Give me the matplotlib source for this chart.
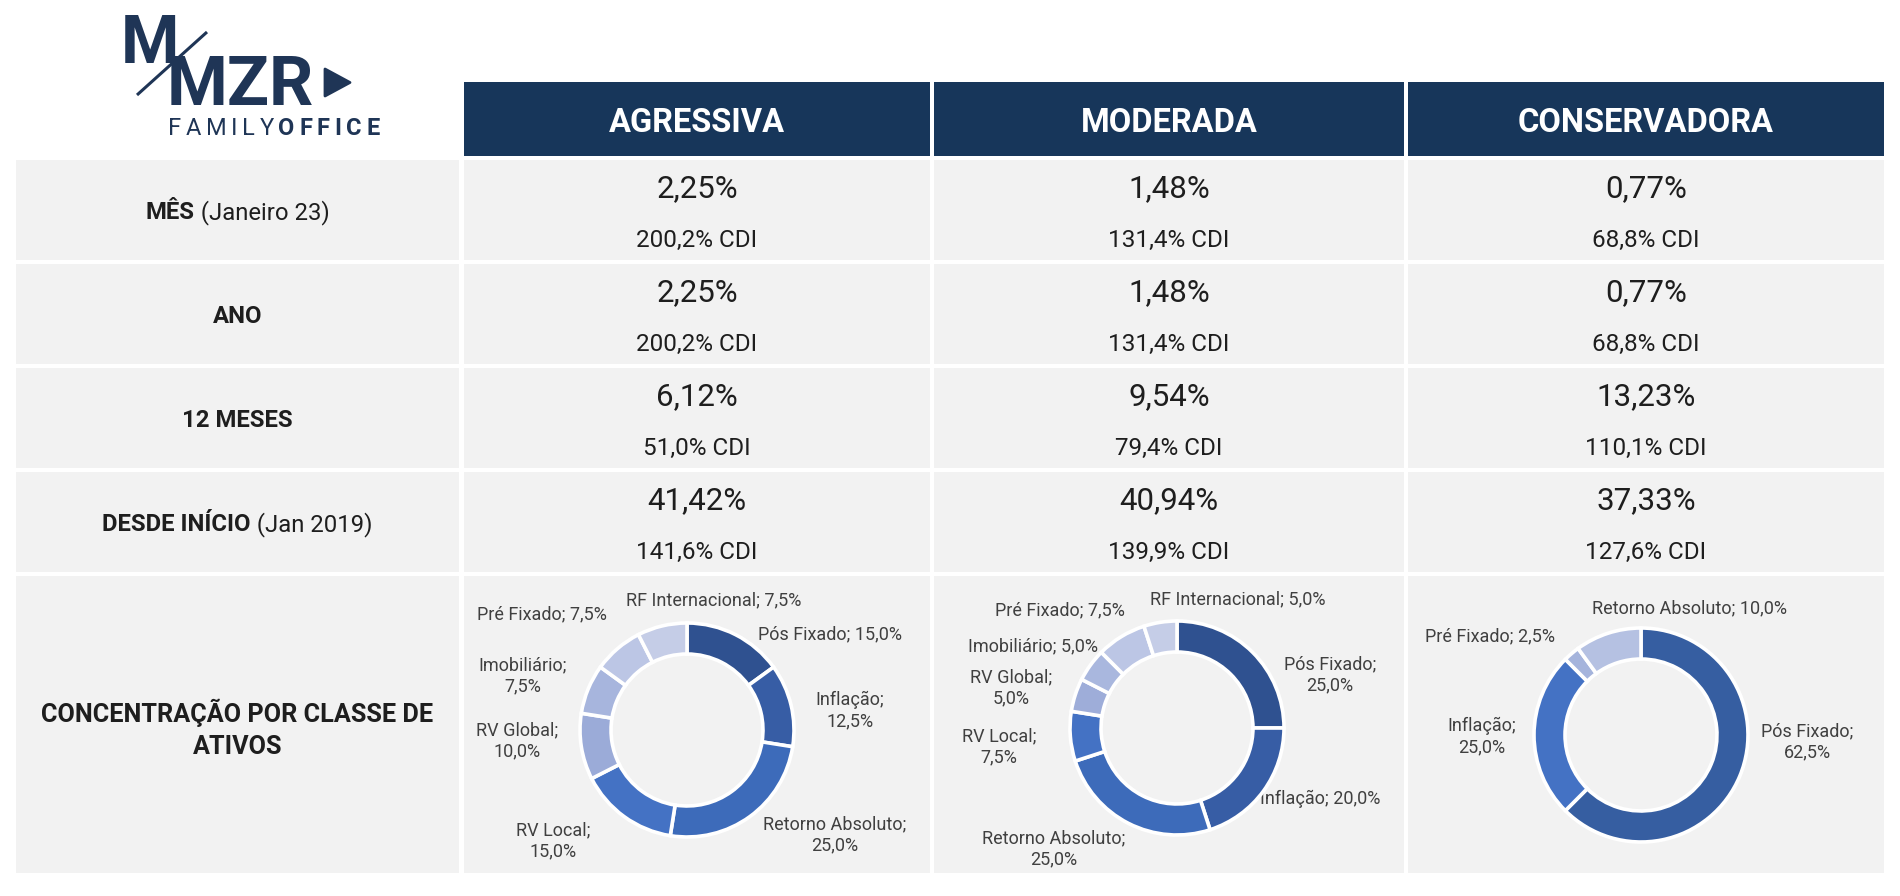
import matplotlib
matplotlib.use('Agg')
import matplotlib.pyplot as plt
from matplotlib.patches import Rectangle, Polygon

plt.rcParams['font.family'] = ['Roboto', 'DejaVu Sans']

# dados
perfis = ['AGRESSIVA', 'MODERADA', 'CONSERVADORA']
periodos = ['MÊS', 'ANO', '12 MESES', 'DESDE INÍCIO']
periodos_ref = [' (Janeiro 23)', '', '', ' (Jan 2019)']

ret_agressiva = [2.25, 2.25, 6.12, 41.42]
ret_moderada = [1.48, 1.48, 9.54, 40.94]
ret_conservadora = [0.77, 0.77, 13.23, 37.33]
cdi_agressiva = [200.2, 200.2, 51.0, 141.6]
cdi_moderada = [131.4, 131.4, 79.4, 139.9]
cdi_conservadora = [68.8, 68.8, 110.1, 127.6]

classes_agr = ['Pós Fixado', 'Inflação', 'Retorno Absoluto', 'RV Local',
               'RV Global', 'Imobiliário', 'Pré Fixado', 'RF Internacional']
pesos_agr = [15.0, 12.5, 25.0, 15.0, 10.0, 7.5, 7.5, 7.5]
classes_mod = ['Pós Fixado', 'Inflação', 'Retorno Absoluto', 'RV Local',
               'RV Global', 'Imobiliário', 'Pré Fixado', 'RF Internacional']
pesos_mod = [25.0, 20.0, 25.0, 7.5, 5.0, 5.0, 7.5, 5.0]
classes_con = ['Pós Fixado', 'Inflação', 'Pré Fixado', 'Retorno Absoluto']
pesos_con = [62.5, 25.0, 2.5, 10.0]

# estilo / layout (pixels)
NAVY = '#17365A'
LOGO = '#1F3556'
CELL = '#F2F2F2'
TXT = '#1E1E1E'
LBL = '#404040'
cores_agr = ['#2F5190', '#375DA5', '#3D6BBA', '#4472C4', '#9BABD8', '#A7B5DD', '#BCC6E5', '#C5CDE7']
cores_mod = ['#2F5190', '#375DA5', '#3D6BBA', '#4472C4', '#9EADD9', '#A9B7DE', '#BCC6E5', '#C5CDE7']
cores_con = ['#365EA1', '#4472C4', '#A5B4DC', '#B5C1E2']

W, H = 1900, 896
col_x = [(464, 930), (934, 1404), (1408, 1884)]
lab_x = (16, 459)
head_y = (82, 156)
row_tops = [160, 264, 368, 472]
row_h = 100
donut_row = (576, 873)

fig = plt.figure(figsize=(W / 100, H / 100), dpi=100)
fig.patch.set_facecolor('white')
ax = fig.add_axes([0, 0, 1, 1])
ax.set_xlim(0, W)
ax.set_ylim(H, 0)
ax.axis('off')


def fmt(v, casas=2):
    return f'{v:.{casas}f}'.replace('.', ',')


# cabeçalho
for (x0, x1), nome in zip(col_x, perfis):
    ax.add_patch(Rectangle((x0, head_y[0]), x1 - x0, head_y[1] - head_y[0], color=NAVY, lw=0))
    ax.text((x0 + x1) / 2, 131.7, nome, color='white', fontsize=23.5, weight='bold',
            ha='center', va='baseline')

# linhas de rentabilidade
renderer = fig.canvas.get_renderer()
rets = [ret_agressiva, ret_moderada, ret_conservadora]
cdis = [cdi_agressiva, cdi_moderada, cdi_conservadora]
for i, top in enumerate(row_tops):
    ax.add_patch(Rectangle((lab_x[0], top), lab_x[1] - lab_x[0], row_h, color=CELL, lw=0))
    t1 = ax.text(0, top + 59.3, periodos[i], color=TXT, fontsize=17.2, weight='bold',
                 ha='left', va='baseline')
    t2 = ax.text(0, top + 59.3, periodos_ref[i], color=TXT, fontsize=17.2,
                 ha='left', va='baseline')
    w1 = t1.get_window_extent(renderer).width
    w2 = t2.get_window_extent(renderer).width if periodos_ref[i] else 0
    xs = (lab_x[0] + lab_x[1]) / 2 - (w1 + w2) / 2
    t1.set_x(xs)
    t2.set_x(xs + w1)
    for j, (x0, x1) in enumerate(col_x):
        ax.add_patch(Rectangle((x0, top), x1 - x0, row_h, color=CELL, lw=0))
        ax.text((x0 + x1) / 2, top + 36.7, fmt(rets[j][i]) + '%', color=TXT, fontsize=22.5,
                ha='center', va='baseline')
        ax.text((x0 + x1) / 2, top + 86.7, fmt(cdis[j][i], 1) + '% CDI', color=TXT,
                fontsize=17.5, ha='center', va='baseline')

# linha de concentração
ax.add_patch(Rectangle((lab_x[0], donut_row[0]), lab_x[1] - lab_x[0],
                       donut_row[1] - donut_row[0], color=CELL, lw=0))
ax.text((lab_x[0] + lab_x[1]) / 2, 729, 'CONCENTRAÇÃO POR CLASSE DE\nATIVOS', color=TXT,
        fontsize=18.2, weight='bold', ha='center', va='center', linespacing=1.45)
for (x0, x1) in col_x:
    ax.add_patch(Rectangle((x0, donut_row[0]), x1 - x0, donut_row[1] - donut_row[0],
                           color=CELL, lw=0))

# rosquinhas: centro, posição dos rótulos e quebra de linha
R = 107
donuts = [
    (classes_agr, pesos_agr, cores_agr, (687, 730),
     [(830, 634, ' '), (850, 711, '\n'), (835, 835, '\n'), (553, 841, '\n'),
      (517, 741, '\n'), (523, 676, '\n'), (542, 614, ' '), (714, 600, ' ')]),
    (classes_mod, pesos_mod, cores_mod, (1177, 728),
     [(1330, 675, '\n'), (1320, 799, ' '), (1054, 849, '\n'), (999, 747, '\n'),
      (1011, 688, '\n'), (1033, 646, ' '), (1060, 610, ' '), (1238, 599, ' ')]),
    (classes_con, pesos_con, cores_con, (1641, 735),
     [(1807, 742, '\n'), (1482, 737, '\n'), (1490, 636, ' '), (1689, 608, ' ')]),
]
for classes, pesos, cores, (cx, cy), rotulos in donuts:
    S = 2 * R * 1.25
    pax = fig.add_axes([(cx - S / 2) / W, (H - cy - S / 2) / H, S / W, S / H])
    pax.pie(pesos, colors=cores, startangle=90, counterclock=False, radius=1,
            wedgeprops=dict(width=0.29, edgecolor='white', linewidth=2.6))
    pax.axis('off')
    for classe, peso, (lx, ly, sep) in zip(classes, pesos, rotulos):
        ax.text(lx, ly, f'{classe};{sep}{fmt(peso, 1)}%', color=LBL, fontsize=13,
                ha='center', va='center', linespacing=1.25)

# logo
ax.text(121, 63, 'M', color=LOGO, fontsize=48, weight='bold', ha='left', va='baseline')
ax.text(167, 105, 'MZR', color=LOGO, fontsize=50, weight='bold', ha='left', va='baseline')
ax.plot([137, 207], [95, 32], color=LOGO, lw=2.2, solid_capstyle='butt')
ax.add_patch(Polygon([(325, 69), (325, 96), (350, 82.5)], closed=True, facecolor=LOGO,
                     edgecolor=LOGO, lw=2, joinstyle='round'))


def espacado(x, y, texto, peso, tracking):
    for ch in texto:
        t = ax.text(x, y, ch, color=LOGO, fontsize=17, weight=peso, ha='left', va='baseline')
        x += t.get_window_extent(renderer).width + tracking
    return x


xf = espacado(168, 135, 'FAMILY', 'normal', 4.6)
espacado(xf, 135, 'OFFICE', 'bold', 4.6)

fig.savefig('out.png', dpi=100, facecolor='white')
